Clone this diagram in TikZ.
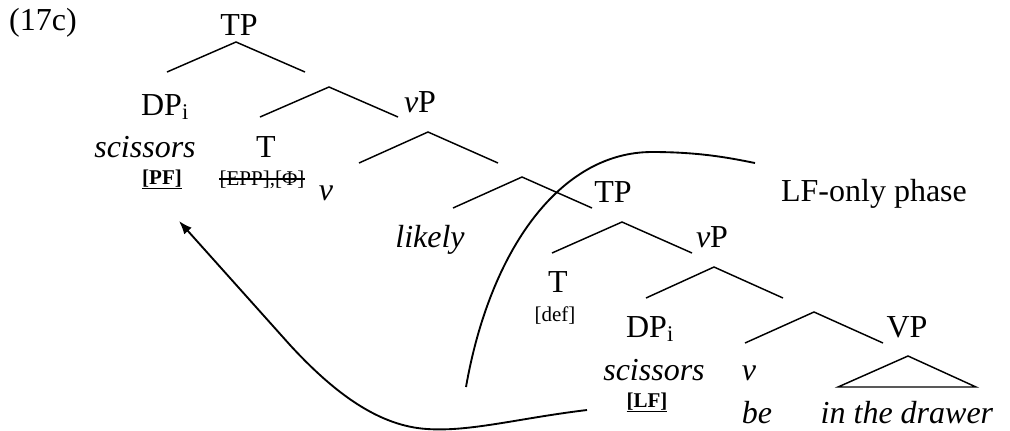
\documentclass[tikz,border=0pt]{standalone}
\usepackage{fontspec}
\setmainfont{Liberation Serif}
\usetikzlibrary{arrows.meta}
\tikzset{
  lbl/.style={inner sep=0pt, anchor=base, font=\fontsize{24}{28}\selectfont},
  feat/.style={inner sep=0pt, anchor=base, font=\fontsize{15.75}{18}\selectfont},
  branch/.style={line width=1.1pt},
  phase/.style={line width=1.4pt},
  move/.style={line width=1.4pt, -{Latex[length=10pt,width=7.5pt]}}
}
\begin{document}
\begin{tikzpicture}[x=0.75pt,y=-0.75pt]
\useasboundingbox (0,0) rectangle (1010,430);
\node[lbl] (ex) at (43,30) {(17c)};
% upper clause
\node[lbl] (tpa) at (239,35) {TP};
\node[lbl] (dpa) at (165,115) {DP\textsubscript{i}};
\node[lbl] (sca) at (145,157) {\textit{scissors}};
\node[feat] (pf) at (162,184) {\underline{\textbf{[PF]}}};
\node[lbl] (ta) at (266,157) {T};
\node[feat] (epp) at (262,185) {[EPP],[Φ]};
\draw[line width=0.8pt] ([yshift=4.5pt]epp.base west) -- ([yshift=4.5pt]epp.base east);
\node[lbl] (vpa) at (420,112) {\textit{v}P};
\node[lbl] (va) at (326,200) {\textit{v}};
\node[lbl] (likely) at (430,247) {\textit{likely}};
% lower clause
\node[lbl] (tpb) at (613,202) {TP};
\node[lbl] (tb) at (558,292) {T};
\node[feat] (def) at (555,321) {[def]};
\node[lbl] (vpb) at (712,247) {\textit{v}P};
\node[lbl] (dpb) at (650,337) {DP\textsubscript{i}};
\node[lbl] (scb) at (654,380) {\textit{scissors}};
\node[feat] (lf) at (647,407) {\underline{\textbf{[LF]}}};
\node[lbl] (vb) at (749,380) {\textit{v}};
\node[lbl] (be) at (757,423) {\textit{be}};
\node[lbl] (vp) at (907,337) {VP};
\node[lbl] (drawer) at (907,423) {\textit{in the drawer}};
\node[lbl] (only) at (874,201) {LF-only phase};
% branches
\coordinate (b1) at (236,42);
\coordinate (b2) at (329,87);
\coordinate (b3) at (428,132);
\coordinate (b4) at (522,177);
\coordinate (b5) at (622,222);
\coordinate (b6) at (714,267);
\coordinate (b7) at (814,312);
\coordinate (tri) at (908,356);
\draw[branch] (b1) +(-69,30) -- (b1) -- +(69,30);
\draw[branch] (b2) +(-69,30) -- (b2) -- +(69,30);
\draw[branch] (b3) +(-69,31) -- (b3) -- +(70,31);
\draw[branch] (b4) +(-69,31) -- (b4) -- +(70,31);
\draw[branch] (b5) +(-70,31) -- (b5) -- +(70,31);
\draw[branch] (b6) +(-68,31) -- (b6) -- +(69,31);
\draw[branch] (b7) +(-69,31) -- (b7) -- +(69,31);
\draw[branch] (tri) -- +(-70,31) -- +(68,31) -- cycle;
% phase boundary
\draw[phase] (466,387) .. controls (490,250) and (560,152) .. (652,152)
  .. controls (700,152) and (730,158) .. (755,163);
% movement
\coordinate (mvfrom) at (587,410);
\coordinate (mvto) at (179,221);
\draw[move] (mvfrom) .. controls (520,418) and (470,432) .. (427,429)
  .. controls (380,426) and (336,395) .. (290,345) -- (mvto);
\end{tikzpicture}
\end{document}
